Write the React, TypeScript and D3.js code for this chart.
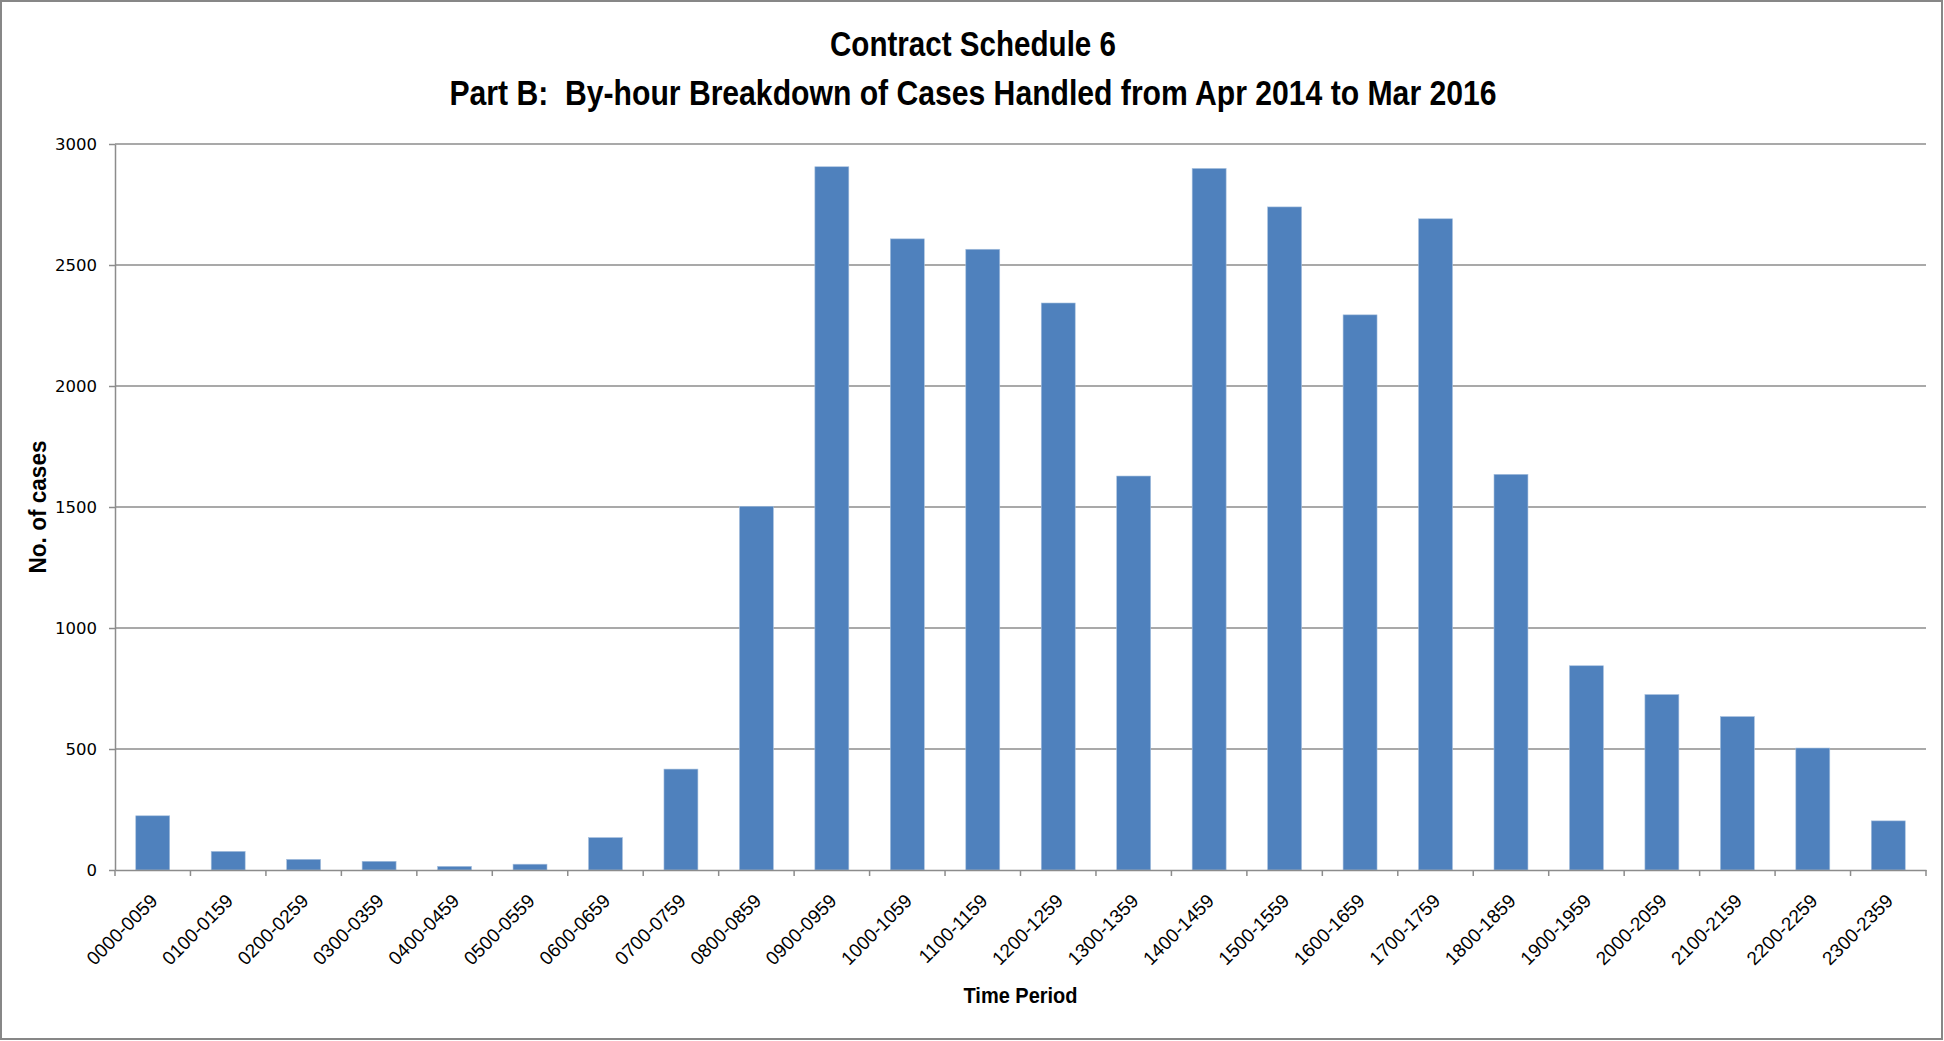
import { useEffect, useRef } from "react"
import * as d3 from "d3"

const titleLines = [
  "Contract Schedule 6",
  "Part B:  By-hour Breakdown of Cases Handled from Apr 2014 to Mar 2016",
]

const timePeriods = [
  "0000-0059", "0100-0159", "0200-0259", "0300-0359", "0400-0459", "0500-0559",
  "0600-0659", "0700-0759", "0800-0859", "0900-0959", "1000-1059", "1100-1159",
  "1200-1259", "1300-1359", "1400-1459", "1500-1559", "1600-1659", "1700-1759",
  "1800-1859", "1900-1959", "2000-2059", "2100-2159", "2200-2259", "2300-2359",
]

const cases = [
  224, 77, 44, 36, 15, 24, 134, 417, 1503, 2906, 2608, 2565,
  2343, 1628, 2899, 2740, 2294, 2691, 1635, 844, 725, 634, 504, 203,
]

const yTicks = [0, 500, 1000, 1500, 2000, 2500, 3000]

const W = 1944
const H = 1041
const margin = { top: 144, right: 18, bottom: 171, left: 115 }

const App = () => {
  const svgRef = useRef<SVGSVGElement | null>(null)

  useEffect(() => {
    const svg = d3.select(svgRef.current)
    svg.selectAll("*").remove()

    const plotBottom = H - margin.bottom
    const plotRight = W - margin.right

    // outer chart border
    svg
      .append("rect")
      .attr("x", 1)
      .attr("y", 1)
      .attr("width", W - 3)
      .attr("height", H - 3)
      .attr("fill", "white")
      .attr("stroke", "#878787")
      .attr("stroke-width", 2)

    const x = d3
      .scaleBand()
      .domain(timePeriods)
      .range([margin.left, plotRight])
      .paddingInner(0.55)
      .paddingOuter(0.275)

    const y = d3.scaleLinear().domain([0, 3000]).range([plotBottom, margin.top])

    // title (condensed bold, squeezed to the reference widths)
    const titleFont = "'Liberation Sans Narrow', 'Liberation Sans', Arial, sans-serif"
    svg
      .append("text")
      .attr("x", 973)
      .attr("y", 56)
      .attr("text-anchor", "middle")
      .attr("font-family", titleFont)
      .attr("font-weight", "bold")
      .attr("font-size", 35)
      .attr("textLength", 286)
      .attr("lengthAdjust", "spacingAndGlyphs")
      .text(titleLines[0])
    svg
      .append("text")
      .attr("x", 973)
      .attr("y", 105)
      .attr("text-anchor", "middle")
      .attr("font-family", titleFont)
      .attr("font-weight", "bold")
      .attr("font-size", 35)
      .attr("textLength", 1047)
      .attr("lengthAdjust", "spacingAndGlyphs")
      .style("white-space", "pre")
      .text(titleLines[1])

    // gridlines
    svg
      .append("g")
      .selectAll("line")
      .data(yTicks.filter((t) => t > 0))
      .enter()
      .append("line")
      .attr("x1", margin.left)
      .attr("x2", plotRight)
      .attr("y1", (d) => y(d))
      .attr("y2", (d) => y(d))
      .attr("stroke", "#8c8c8c")
      .attr("stroke-width", 1.5)

    // bars
    svg
      .append("g")
      .selectAll("rect")
      .data(cases)
      .enter()
      .append("rect")
      .attr("x", (_, i) => x(timePeriods[i]) || 0)
      .attr("y", (d) => y(d))
      .attr("width", x.bandwidth())
      .attr("height", (d) => plotBottom - y(d))
      .attr("fill", "#4f81bd")
      .attr("stroke", "#a7c0de")
      .attr("stroke-width", 0.6)

    // y axis
    const yAxis = svg
      .append("g")
      .attr("transform", `translate(${margin.left},0)`)
      .call(
        d3
          .axisLeft(y)
          .tickValues(yTicks)
          .tickSize(6)
          .tickSizeOuter(0)
          .tickPadding(12)
          .tickFormat((d) => `${d}`)
      )
    yAxis.select(".domain").attr("stroke", "#8c8c8c").attr("stroke-width", 1.5)
    yAxis.selectAll(".tick line").attr("stroke", "#8c8c8c").attr("stroke-width", 1.5)
    yAxis
      .selectAll(".tick text")
      .attr("font-family", "'DejaVu Sans', Verdana, sans-serif")
      .attr("font-size", 16.5)
      .attr("fill", "#000")

    // x axis
    const xAxis = svg
      .append("g")
      .attr("transform", `translate(0,${plotBottom})`)
      .call(d3.axisBottom(x).tickSize(0).tickSizeOuter(0))
    xAxis.select(".domain").attr("stroke", "#8c8c8c").attr("stroke-width", 1.5)
    xAxis
      .selectAll(".tick text")
      .attr("x", 0)
      .attr("y", 0)
      .attr("dy", 0)
      .attr("transform", "translate(6,32) rotate(-45)")
      .attr("text-anchor", "end")
      .attr("font-family", "'Liberation Sans', Arial, sans-serif")
      .attr("font-size", 19)
      .attr("fill", "#000")

    // category boundary ticks
    const step = x.step()
    const boundaries = d3.range(timePeriods.length + 1)
    svg
      .append("g")
      .selectAll("line")
      .data(boundaries)
      .enter()
      .append("line")
      .attr("x1", (i) => margin.left + i * step)
      .attr("x2", (i) => margin.left + i * step)
      .attr("y1", plotBottom)
      .attr("y2", plotBottom + 6)
      .attr("stroke", "#8c8c8c")
      .attr("stroke-width", 1.5)

    // axis titles
    svg
      .append("text")
      .attr("transform", `translate(46,${(margin.top + plotBottom) / 2}) rotate(-90)`)
      .attr("text-anchor", "middle")
      .attr("font-family", "'Liberation Sans', Arial, sans-serif")
      .attr("font-weight", "bold")
      .attr("font-size", 23)
      .attr("textLength", 133)
      .attr("lengthAdjust", "spacingAndGlyphs")
      .text("No. of cases")

    svg
      .append("text")
      .attr("x", (margin.left + plotRight) / 2)
      .attr("y", 1003)
      .attr("text-anchor", "middle")
      .attr("font-family", "'Liberation Sans', Arial, sans-serif")
      .attr("font-weight", "bold")
      .attr("font-size", 22)
      .attr("textLength", 114)
      .attr("lengthAdjust", "spacingAndGlyphs")
      .text("Time Period")
  }, [])

  return (
    <div style={{ position: "absolute", left: 0, top: 0 }}>
      <svg ref={svgRef} width={W} height={H} style={{ display: "block" }}></svg>
    </div>
  )
}

export default App
